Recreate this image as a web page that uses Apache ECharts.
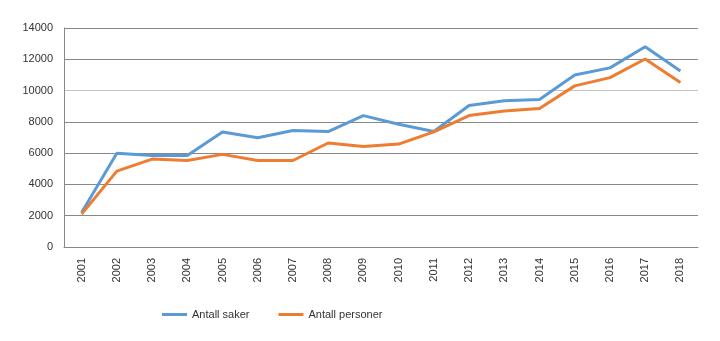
<!DOCTYPE html>
<html>
<head>
<meta charset="utf-8">
<script src="https://cdn.jsdelivr.net/npm/echarts@6/dist/echarts.min.js"></script>
<style>
  html, body { margin: 0; padding: 0; background: #fff; }
  #chart { width: 720px; height: 341px; }
</style>
</head>
<body>
<div id="chart"></div>
<script>
// Years on the category axis
const years = ['2001','2002','2003','2004','2005','2006','2007','2008','2009',
  '2010','2011','2012','2013','2014','2015','2016','2017','2018'];

// Number of cases per year
const antallSaker = [2200, 6000, 5850, 5850, 7350, 6980, 7450, 7380, 8400,
  7850, 7380, 9050, 9350, 9430, 11000, 11450, 12800, 11250];

// Number of persons per year
const antallPersoner = [2100, 4850, 5620, 5530, 5920, 5530, 5530, 6650, 6420,
  6580, 7360, 8400, 8700, 8860, 10300, 10830, 12020, 10520];

const seriesNames = ['Antall saker', 'Antall personer'];
const seriesColors = ['#5b9bd5', '#ed7d31'];

const font = "'Liberation Sans', Arial, sans-serif";
const gridColors = ['#888', '#888', '#888', '#888', '#888', '#c4c4c4', '#888', '#888'];

const chart = echarts.init(document.getElementById('chart'));
chart.setOption({
  animation: false,
  grid: { left: 64, right: 22, top: 28, bottom: 94 },
  legend: {
    left: 157,
    top: 304,
    itemWidth: 25,
    itemHeight: 3,
    itemGap: 29,
    icon: 'rect',
    textStyle: { fontFamily: font, fontSize: 11, color: '#333' },
    data: seriesNames
  },
  xAxis: {
    type: 'category',
    data: years,
    boundaryGap: true,
    axisLine: { show: true, lineStyle: { color: '#888', width: 1 } },
    axisTick: { show: false },
    axisLabel: {
      rotate: 90,
      margin: 11,
      fontFamily: font,
      fontSize: 11,
      color: '#333',
      interval: 0
    }
  },
  yAxis: {
    type: 'value',
    min: 0,
    max: 14000,
    interval: 2000,
    axisLine: { show: true, lineStyle: { color: '#888', width: 1 } },
    axisTick: { show: false },
    axisLabel: {
      fontFamily: font,
      fontSize: 11,
      color: '#333',
      margin: 11,
      formatter: (v) => String(v)
    },
    splitLine: { show: true, lineStyle: { color: gridColors, width: 1 } }
  },
  series: [
    {
      name: seriesNames[0],
      type: 'line',
      data: antallSaker,
      symbol: 'none',
      lineStyle: { color: seriesColors[0], width: 3 },
      itemStyle: { color: seriesColors[0] }
    },
    {
      name: seriesNames[1],
      type: 'line',
      data: antallPersoner,
      symbol: 'none',
      lineStyle: { color: seriesColors[1], width: 3 },
      itemStyle: { color: seriesColors[1] }
    }
  ]
});
</script>
</body>
</html>
